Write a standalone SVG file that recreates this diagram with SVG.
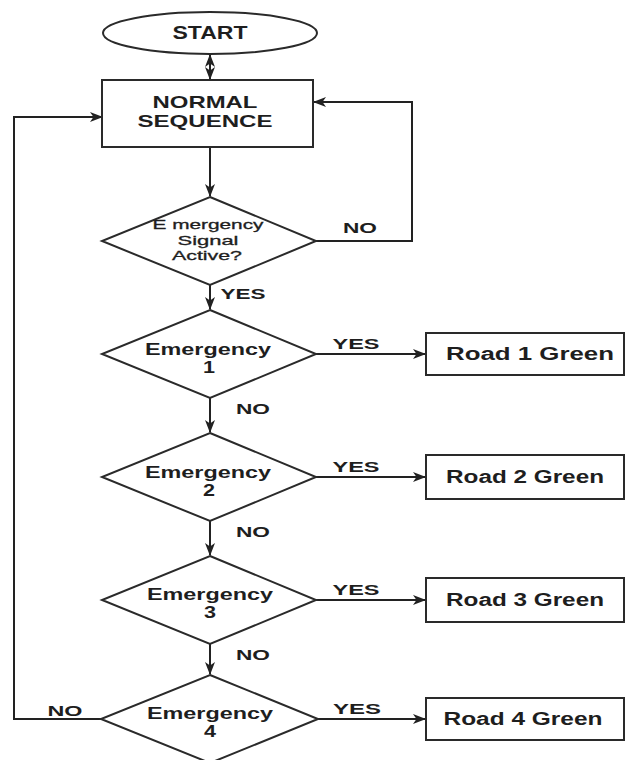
<svg xmlns="http://www.w3.org/2000/svg" width="627" height="760" viewBox="0 0 627 760">
<style>
  .shape { fill: #ffffff; stroke: #2a2a2a; stroke-width: 2; }
  .conn { fill: none; stroke: #222222; stroke-width: 2; }
  text { font-family: "Liberation Sans", Arial, sans-serif; fill: #1e1e1e; text-anchor: middle; }
  .b { font-weight: bold; font-size: 18px; }
  .ns { font-weight: bold; font-size: 17px; }
  .em { font-weight: bold; font-size: 16px; }
  .lbl { font-weight: bold; font-size: 15px; }
  .sm { font-size: 13px; stroke: #1e1e1e; stroke-width: 0.3; }
</style>
<defs>
  <marker id="arr" viewBox="0 0 13 10" refX="12" refY="5" markerWidth="13" markerHeight="10" markerUnits="userSpaceOnUse" orient="auto">
    <path d="M0,0 L13,5 L0,10 L3.5,5 z" fill="#222222"/>
  </marker>
  <marker id="arrS" viewBox="0 0 13 10" refX="12" refY="5" markerWidth="13" markerHeight="10" markerUnits="userSpaceOnUse" orient="auto-start-reverse">
    <path d="M0,0 L13,5 L0,10 L3.5,5 z" fill="#222222"/>
  </marker>
</defs>
<rect width="627" height="760" fill="#ffffff"/>

<g id="connectors">
  <line class="conn" x1="210" y1="55" x2="210" y2="79" marker-start="url(#arrS)" marker-end="url(#arr)"/>
  <line class="conn" x1="210" y1="147" x2="210" y2="196" marker-end="url(#arr)"/>
  <path class="conn" d="M316,241 H412 V102 H314" marker-end="url(#arr)"/>
  <line class="conn" x1="210" y1="285" x2="210" y2="309" marker-end="url(#arr)"/>
  <line class="conn" x1="316" y1="354" x2="425" y2="354" marker-end="url(#arr)"/>
  <line class="conn" x1="210" y1="398" x2="210" y2="432" marker-end="url(#arr)"/>
  <line class="conn" x1="316" y1="477" x2="425" y2="477" marker-end="url(#arr)"/>
  <line class="conn" x1="210" y1="521" x2="210" y2="555" marker-end="url(#arr)"/>
  <line class="conn" x1="316" y1="600" x2="425" y2="600" marker-end="url(#arr)"/>
  <line class="conn" x1="210" y1="644" x2="210" y2="674" marker-end="url(#arr)"/>
  <line class="conn" x1="318" y1="719" x2="425" y2="719" marker-end="url(#arr)"/>
  <path class="conn" d="M101,719 H14 V117 H102" marker-end="url(#arr)"/>
</g>

<g id="labels">
  <text class="lbl" x="360" y="233" textLength="34" lengthAdjust="spacingAndGlyphs">NO</text>
  <text class="lbl" x="243" y="299" textLength="45" lengthAdjust="spacingAndGlyphs">YES</text>
  <text class="lbl" x="356" y="349" textLength="47" lengthAdjust="spacingAndGlyphs">YES</text>
  <text class="lbl" x="253" y="414" textLength="34" lengthAdjust="spacingAndGlyphs">NO</text>
  <text class="lbl" x="356" y="472" textLength="47" lengthAdjust="spacingAndGlyphs">YES</text>
  <text class="lbl" x="253" y="537" textLength="34" lengthAdjust="spacingAndGlyphs">NO</text>
  <text class="lbl" x="356" y="595" textLength="47" lengthAdjust="spacingAndGlyphs">YES</text>
  <text class="lbl" x="253" y="660" textLength="34" lengthAdjust="spacingAndGlyphs">NO</text>
  <text class="lbl" x="357" y="714" textLength="48" lengthAdjust="spacingAndGlyphs">YES</text>
  <text class="lbl" x="65" y="716" textLength="35" lengthAdjust="spacingAndGlyphs">NO</text>
</g>

<g id="start">
  <ellipse class="shape" cx="210" cy="33" rx="107" ry="21"/>
  <text class="b" x="210" y="39" font-size="19" textLength="75" lengthAdjust="spacingAndGlyphs">START</text>
</g>

<g id="normal-sequence">
  <rect class="shape" x="102" y="80" width="211" height="67"/>
  <text class="ns" x="205" y="108" textLength="105" lengthAdjust="spacingAndGlyphs">NORMAL</text>
  <text class="ns" x="205" y="127" textLength="135" lengthAdjust="spacingAndGlyphs">SEQUENCE</text>
</g>

<g id="emergency-signal-active">
  <polygon class="shape" points="210,197 316,241 210,285 102,241"/>
  <text class="sm" x="208" y="229" textLength="111" lengthAdjust="spacingAndGlyphs">E mergency</text>
  <text class="sm" x="208" y="245" textLength="61" lengthAdjust="spacingAndGlyphs">Signal</text>
  <text class="sm" x="207" y="260" textLength="70" lengthAdjust="spacingAndGlyphs">Active?</text>
</g>

<g id="emergency-1">
  <polygon class="shape" points="210,310 316,354 210,398 102,354"/>
  <text class="em" x="208" y="355" textLength="126" lengthAdjust="spacingAndGlyphs">Emergency</text>
  <text class="em" x="209" y="373" textLength="12" lengthAdjust="spacingAndGlyphs">1</text>
</g>

<g id="emergency-2">
  <polygon class="shape" points="210,433 316,477 210,521 102,477"/>
  <text class="em" x="208" y="478" textLength="126" lengthAdjust="spacingAndGlyphs">Emergency</text>
  <text class="em" x="209" y="496" textLength="12" lengthAdjust="spacingAndGlyphs">2</text>
</g>

<g id="emergency-3">
  <polygon class="shape" points="210,556 316,600 210,644 102,600"/>
  <text class="em" x="210" y="600" textLength="126" lengthAdjust="spacingAndGlyphs">Emergency</text>
  <text class="em" x="210" y="618" textLength="12" lengthAdjust="spacingAndGlyphs">3</text>
</g>

<g id="emergency-4">
  <polygon class="shape" points="210,675 318,719 210,763 101,719"/>
  <text class="em" x="210" y="719" textLength="126" lengthAdjust="spacingAndGlyphs">Emergency</text>
  <text class="em" x="210" y="737" textLength="12" lengthAdjust="spacingAndGlyphs">4</text>
</g>

<g id="road-1-green">
  <rect class="shape" x="426" y="333" width="198" height="42"/>
  <text class="b" x="530" y="360" textLength="168" lengthAdjust="spacingAndGlyphs">Road 1 Green</text>
</g>

<g id="road-2-green">
  <rect class="shape" x="426" y="455" width="198" height="44"/>
  <text class="b" x="525" y="483" textLength="158" lengthAdjust="spacingAndGlyphs">Road 2 Green</text>
</g>

<g id="road-3-green">
  <rect class="shape" x="426" y="578" width="198" height="44"/>
  <text class="b" x="525" y="606" textLength="158" lengthAdjust="spacingAndGlyphs">Road 3 Green</text>
</g>

<g id="road-4-green">
  <rect class="shape" x="426" y="698" width="198" height="42"/>
  <text class="b" x="523" y="725" textLength="159" lengthAdjust="spacingAndGlyphs">Road 4 Green</text>
</g>
</svg>
